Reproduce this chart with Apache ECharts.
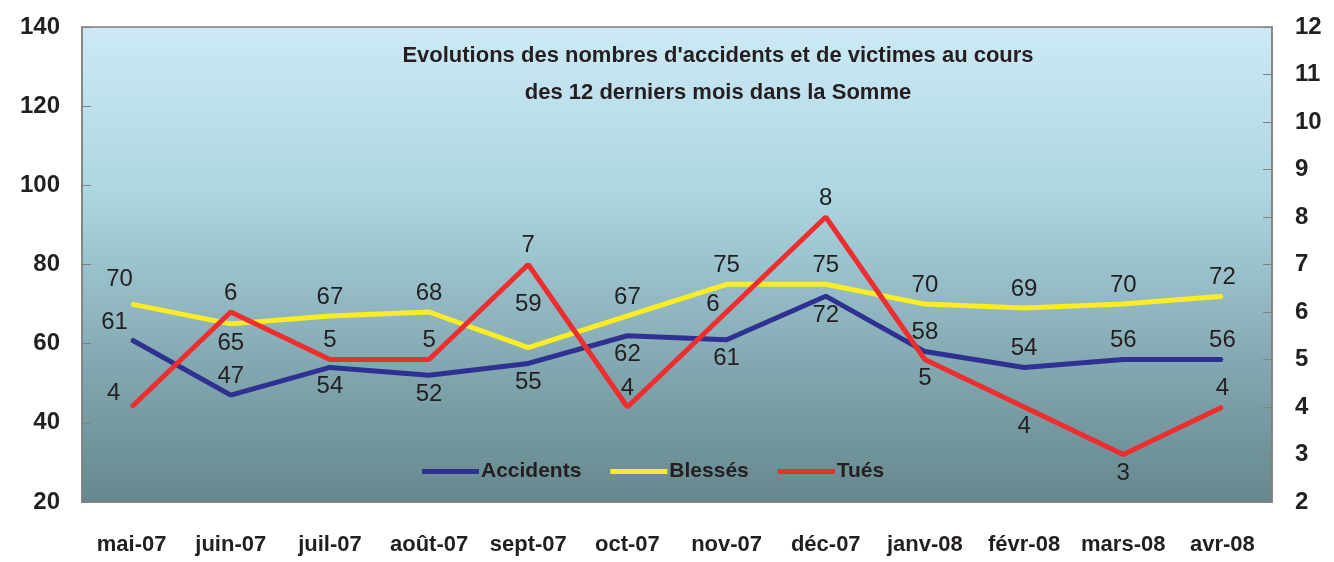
<!DOCTYPE html>
<html>
<head>
<meta charset="utf-8">
<script src="https://cdn.jsdelivr.net/npm/echarts@6/dist/echarts.min.js"></script>
<style>
  html, body { margin: 0; padding: 0; background: #fff; }
  #chart { width: 1334px; height: 562px; }
</style>
</head>
<body>
<div id="chart"></div>
<script>
// mois
var mois = ['mai-07', 'juin-07', 'juil-07', 'août-07', 'sept-07', 'oct-07',
            'nov-07', 'déc-07', 'janv-08', 'févr-08', 'mars-08', 'avr-08'];

// valeurs
var accidents = [61, 47, 54, 52, 55, 62, 61, 72, 58, 54, 56, 56];
var blesses   = [70, 65, 67, 68, 59, 67, 75, 75, 70, 69, 70, 72];
var tues      = [4, 6, 5, 5, 7, 4, 6, 8, 5, 4, 3, 4];

// position des étiquettes
var posAcc = ['top', 'top', 'bottom', 'bottom', 'bottom', 'bottom', 'bottom', 'bottom', 'top', 'top', 'top', 'top'];
var posBle = ['top', 'bottom', 'top', 'top', 'top', 'top', 'top', 'top', 'top', 'top', 'top', 'top'];
var posTue = ['top', 'top', 'top', 'top', 'top', 'top', 'left', 'top', 'bottom', 'bottom', 'bottom', 'top'];
// petits décalages à la main (index -> [dx, dy])
var decAcc = {0: [-17, 2]};
var decBle = {0: [-12, -6], 4: [0, -24]};
var decTue = {0: [-18, 5], 6: [0, -8]};

function points(vals, pos, dec) {
  return vals.map(function (v, i) {
    return {
      value: v,
      label: { position: pos[i], offset: dec[i] || [0, 0] }
    };
  });
}

var txt = '#231f20';
var axe = '#808080';

var myChart = echarts.init(document.getElementById('chart'));

function serie(nom, vals, pos, dec, couleur, yIdx) {
  return {
    name: nom,
    type: 'line',
    yAxisIndex: yIdx,
    data: points(vals, pos, dec),
    symbol: 'circle',
    symbolSize: 2,
    lineStyle: { width: 5, color: couleur },
    itemStyle: { color: couleur },
    label: {
      show: true,
      distance: 6,
      color: txt,
      fontSize: 24,
      fontFamily: 'Liberation Sans, Arial, sans-serif'
    },
    emphasis: { disabled: true },
    animation: false
  };
}

var option = {
  title: {
    text: "Evolutions des nombres d'accidents et de victimes au cours\ndes 12 derniers mois dans la Somme",
    left: 713,
    top: 32,
    textAlign: 'center',
    textStyle: {
      fontFamily: 'Liberation Sans, sans-serif',
      fontSize: 22,
      fontWeight: 'bold',
      color: txt,
      lineHeight: 37
    }
  },
  legend: {
    left: 417,
    top: 456,
    icon: 'rect',
    itemWidth: 57,
    itemHeight: 5,
    itemGap: 29,
    textStyle: {
      fontFamily: 'Liberation Sans, Arial, sans-serif',
      fontSize: 21,
      fontWeight: 'bold',
      color: txt,
      padding: [0, 0, 0, -3]
    },
    data: ['Accidents', 'Blessés', 'Tués']
  },
  grid: {
    left: 82,
    right: 62,
    top: 27,
    bottom: 60,
    show: true,
    borderColor: axe,
    borderWidth: 1.5,
    backgroundColor: new echarts.graphic.LinearGradient(0, 0, 0, 1, [
      { offset: 0, color: '#cde9f5' },
      { offset: 0.35, color: '#acd6e2' },
      { offset: 0.7, color: '#84a9b2' },
      { offset: 1, color: '#66878d' }
    ])
  },
  xAxis: {
    type: 'category',
    data: mois,
    boundaryGap: true,
    axisLine: { lineStyle: { color: axe, width: 1.5 } },
    axisTick: { inside: true, length: 9, lineStyle: { color: axe } },
    axisLabel: {
      margin: 32,
      interval: 0,
      color: txt,
      fontSize: 22,
      fontWeight: 'bold',
      fontFamily: 'Liberation Sans, Arial, sans-serif'
    },
    splitLine: { show: false }
  },
  yAxis: [
    {
      type: 'value',
      min: 20,
      max: 140,
      interval: 20,
      position: 'left',
      axisLine: { show: true, lineStyle: { color: axe, width: 1.5 } },
      axisTick: { show: true, inside: true, length: 9, lineStyle: { color: axe } },
      axisLabel: {
        margin: 22,
        color: txt,
        fontSize: 24,
        fontWeight: 'bold',
        fontFamily: 'Liberation Sans, Arial, sans-serif'
      },
      splitLine: { show: false }
    },
    {
      type: 'value',
      min: 2,
      max: 12,
      interval: 1,
      position: 'right',
      axisLine: { show: true, lineStyle: { color: axe, width: 1.5 } },
      axisTick: { show: true, inside: true, length: 9, lineStyle: { color: axe } },
      axisLabel: {
        margin: 23,
        color: txt,
        fontSize: 24,
        fontWeight: 'bold',
        fontFamily: 'Liberation Sans, Arial, sans-serif'
      },
      splitLine: { show: false }
    }
  ],
  series: [
    serie('Accidents', accidents, posAcc, decAcc, '#2e3192', 0),
    serie('Blessés', blesses, posBle, decBle, '#fcec24', 0),
    serie('Tués', tues, posTue, decTue, '#ee2e2e', 1)
  ],
  animation: false
};

myChart.setOption(option);
</script>
</body>
</html>
